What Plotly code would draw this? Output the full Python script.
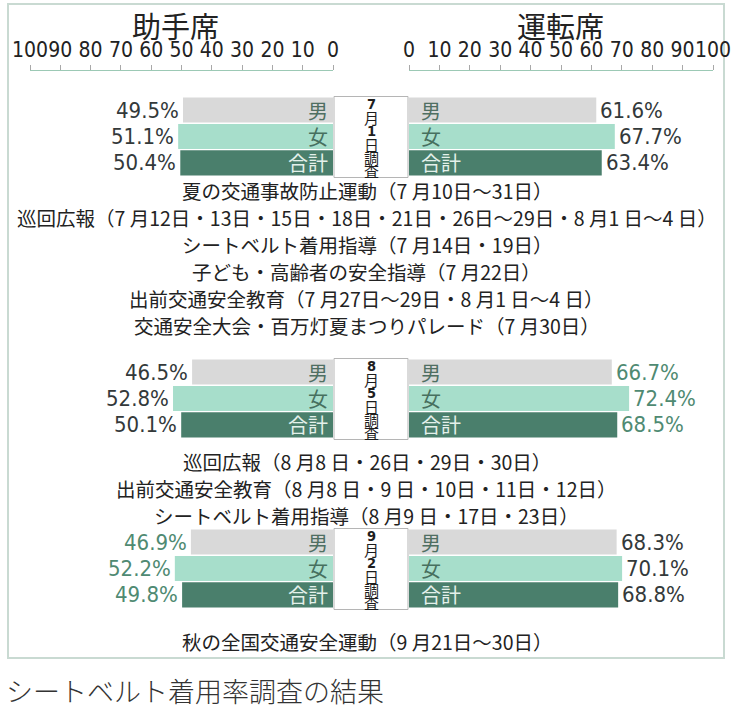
import plotly.graph_objects as go

# ---------------- data ----------------
survey_dates = ["7月1日", "8月5日", "9月2日"]
genders = ["男", "女", "合計"]
passenger_seat = [  # 助手席 (%)
    [49.5, 51.1, 50.4],
    [46.5, 52.8, 50.1],
    [46.9, 52.2, 49.8],
]
driver_seat = [  # 運転席 (%)
    [61.6, 67.7, 63.4],
    [66.7, 72.4, 68.5],
    [68.3, 70.1, 68.8],
]
tick_values = [0, 10, 20, 30, 40, 50, 60, 70, 80, 90, 100]
activities_after_july = [
    "夏の交通事故防止運動（7 月10日～31日）",
    "巡回広報（7 月12日・13日・15日・18日・21日・26日～29日・8 月1 日～4 日）",
    "シートベルト着用指導（7 月14日・19日）",
    "子ども・高齢者の安全指導（7 月22日）",
    "出前交通安全教育（7 月27日～29日・8 月1 日～4 日）",
    "交通安全大会・百万灯夏まつりパレード（7 月30日）",
]
activities_after_august = [
    "巡回広報（8 月8 日・26日・29日・30日）",
    "出前交通安全教育（8 月8 日・9 日・10日・11日・12日）",
    "シートベルト着用指導（8 月9 日・17日・23日）",
]
activities_after_september = [
    "秋の全国交通安全運動（9 月21日～30日）",
]
title_text = "シートベルト着用率調査の結果"
left_title = "助手席"
right_title = "運転席"

# ---------------- layout constants ----------------
W, H = 731, 719
ROW_PX = 27.0
ORIGIN_PX = 110.0           # pixel row of the first bar


def px_to_row(py):
    return (py - ORIGIN_PX) / ROW_PX


section_start = [px_to_row(110), px_to_row(372), px_to_row(542)]
row_step = 0.98
text_rows_july = [px_to_row(190 + 27 * i) for i in range(len(activities_after_july))]
text_rows_aug = [px_to_row(461 + 27 * i) for i in range(len(activities_after_august))]
text_rows_sep = [px_to_row(641)]

bar_colors = ["#d9d9d9", "#a7decb", "#4a7f6c"]
inner_text_colors = ["#4f6f62", "#47705f", "#e4f1eb"]
DARK = "#33393a"
GREEN = "#4f8a72"
pct_colors_left = [DARK, DARK, GREEN]
pct_colors_right = [DARK, GREEN, DARK]

CJK = "Noto Sans CJK JP"
NUM = "DejaVu Sans Condensed"

left_dom = [30 / W, 333 / W]
right_dom = [409 / W, 713 / W]

fig = go.Figure()

for g, gname in enumerate(genders):
    ys = [section_start[d] + g * row_step for d in range(len(survey_dates))]
    fig.add_trace(go.Bar(
        x=[passenger_seat[d][g] for d in range(len(survey_dates))], y=ys,
        orientation="h", xaxis="x", yaxis="y",
        marker=dict(color=bar_colors[g], line=dict(width=0)),
        width=0.93, name=f"助手席 {gname}", showlegend=False,
    ))
    fig.add_trace(go.Bar(
        x=[driver_seat[d][g] for d in range(len(survey_dates))], y=ys,
        orientation="h", xaxis="x2", yaxis="y",
        marker=dict(color=bar_colors[g], line=dict(width=0)),
        width=0.93, name=f"運転席 {gname}", showlegend=False,
    ))

annotations = []
shapes = []

for d, date in enumerate(survey_dates):
    s = section_start[d]
    for g, gname in enumerate(genders):
        y = s + g * row_step
        # inner labels
        annotations.append(dict(x=0, y=y, xref="x", yref="y", text=gname,
                                xanchor="right", yanchor="middle", xshift=-3,
                                showarrow=False,
                                font=dict(family=CJK, size=20, color=inner_text_colors[g])))
        annotations.append(dict(x=0, y=y, xref="x2", yref="y", text=gname,
                                xanchor="left", yanchor="middle", xshift=10,
                                showarrow=False,
                                font=dict(family=CJK, size=20, color=inner_text_colors[g])))
        # percentage labels
        lv = passenger_seat[d][g]
        rv = driver_seat[d][g]
        annotations.append(dict(x=lv, y=y, xref="x", yref="y", text=f"{lv:.1f}%",
                                xanchor="right", yanchor="middle", xshift=-2,
                                showarrow=False,
                                font=dict(family=NUM, size=22, color=pct_colors_left[d])))
        annotations.append(dict(x=rv, y=y, xref="x2", yref="y", text=f"{rv:.1f}%",
                                xanchor="left", yanchor="middle", xshift=2,
                                showarrow=False,
                                font=dict(family=NUM, size=22, color=pct_colors_right[d])))
    # center box with vertical date text
    y_top = s - 0.5
    shapes.append(dict(type="rect", xref="paper", yref="y",
                       x0=334 / W, x1=408 / W, y0=y_top, y1=s + 2.5,
                       fillcolor="white", line=dict(color="#b5b5b5", width=1), layer="above"))
    chars = list(date + "調査")
    step_px = 13.4
    for i, ch in enumerate(chars):
        yc = y_top + (7.3 + step_px * i) / ROW_PX
        if ch.isdigit():
            fnt = dict(family=NUM, size=14.5, color="#1e1e1e", weight="bold")
        else:
            fnt = dict(family=CJK, size=15, color="#1e1e1e")
        annotations.append(dict(x=371 / W, y=yc, xref="paper", yref="y",
                                text=ch, showarrow=False, xanchor="center", yanchor="middle",
                                font=fnt))

# activity text lines
for lines, rows in [(activities_after_july, text_rows_july),
                    (activities_after_august, text_rows_aug),
                    (activities_after_september, text_rows_sep)]:
    for t, r in zip(lines, rows):
        annotations.append(dict(x=367 / W, y=r, xref="paper", yref="y", text=t,
                                showarrow=False, xanchor="center", yanchor="middle",
                                font=dict(family=CJK, size=19.5, color="#222222")))

# section titles
annotations.append(dict(x=175 / W, y=1 - 25 / H, xref="paper", yref="paper", text=left_title,
                        showarrow=False, xanchor="center", yanchor="middle",
                        font=dict(family=CJK, size=29, color="#222222")))
annotations.append(dict(x=560 / W, y=1 - 25 / H, xref="paper", yref="paper", text=right_title,
                        showarrow=False, xanchor="center", yanchor="middle",
                        font=dict(family=CJK, size=29, color="#222222")))
# figure title at the bottom
annotations.append(dict(x=4 / W, y=1 - 690 / H, xref="paper", yref="paper", text=title_text,
                        showarrow=False, xanchor="left", yanchor="middle",
                        font=dict(family=CJK, size=27, color="#333333", weight=300)))

# outer frame
shapes.append(dict(type="rect", xref="paper", yref="paper",
                   x0=8 / W, x1=724 / W, y0=1 - 658 / H, y1=1 - 4 / H,
                   line=dict(color="#c9dad2", width=2), fillcolor="rgba(0,0,0,0)", layer="below"))

axis_common = dict(
    tickvals=tick_values, ticktext=[str(v) for v in tick_values],
    showgrid=False, zeroline=False, showline=True, linecolor="#9cc9b5", linewidth=1,
    ticks="outside", ticklen=5, tickcolor="#a8a8a8", tickwidth=1,
    side="top", anchor="free", position=1 - 70 / H, tickangle=0,
    tickfont=dict(family=NUM, size=21, color="#222222"), fixedrange=True,
    automargin=False, ticklabeloverflow="allow",
)

fig.update_layout(
    width=W, height=H, margin=dict(l=0, r=0, t=0, b=0, autoexpand=False),
    paper_bgcolor="white", plot_bgcolor="rgba(0,0,0,0)",
    barmode="overlay", showlegend=False,
    xaxis=dict(domain=left_dom, range=[100, 0], **axis_common),
    xaxis2=dict(domain=right_dom, range=[0, 100], **axis_common),
    yaxis=dict(domain=[0, 1], range=[px_to_row(H), px_to_row(0)],
               visible=False, fixedrange=True, automargin=False),
    annotations=annotations, shapes=shapes,
)

fig.write_html("out.html")
